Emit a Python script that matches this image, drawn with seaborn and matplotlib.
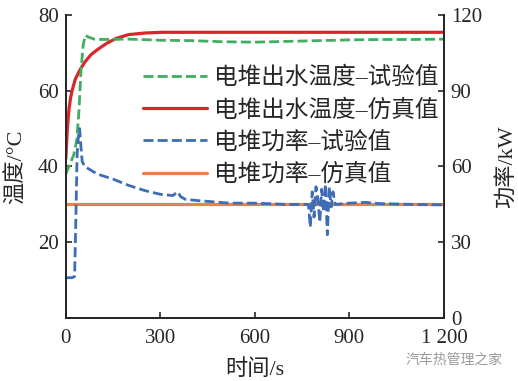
import matplotlib
matplotlib.use("Agg")
import matplotlib.pyplot as plt
import seaborn as sns
import pandas as pd

# --- data ---
t_temp_test = [0, 10, 25, 35, 42, 48, 55, 62, 70, 90, 120, 200, 300, 400, 500,
               600, 700, 800, 900, 1000, 1100, 1200]
temp_test = [38, 40, 43, 47, 55, 65, 72, 74.6, 74.2, 73.6, 73.5, 73.6, 73.3, 73.2,
             72.9, 72.8, 73.0, 73.2, 73.4, 73.5, 73.5, 73.6]

t_temp_sim = [0, 5, 10, 15, 20, 30, 45, 60, 80, 100, 130, 160, 200, 250, 300,
              600, 900, 1200]
temp_sim = [42, 50, 55, 58, 60, 63, 65.5, 67.5, 69.5, 70.8, 72.5, 73.8, 74.8, 75.2,
            75.4, 75.4, 75.4, 75.4]

t_power_test = [0, 10, 20, 28, 32, 36, 40, 44, 48, 52, 60, 80, 100, 150, 200, 250,
                300, 340, 355, 365, 380, 420, 470, 520, 600, 700, 770, 776, 782,
                788, 794, 800, 806, 812, 818, 824, 830, 836, 842, 848, 855, 900,
                950, 1000, 1100, 1200]
power_test = [16, 16, 16, 16.5, 40, 65, 72, 75, 68, 62, 60, 58.5, 57, 55, 52.5,
              50.5, 49, 48.5, 50, 48, 47, 46.5, 46, 45.5, 45.5, 45, 45, 36, 50, 40,
              52, 47, 38, 51, 42, 53, 33, 52, 44, 50, 45, 45.5, 45.8, 45.3, 45, 44.8]

t_power_sim = [0, 1200]
power_sim = [45, 45]

labels = ["电堆出水温度–试验值", "电堆出水温度–仿真值", "电堆功率–试验值", "电堆功率–仿真值"]
colors = ["#3fae5e", "#d8272b", "#3e6db5", "#e5834a"]

sns.set_style("ticks")
plt.rcParams["font.family"] = ["Liberation Serif", "Noto Sans CJK SC"]
plt.rcParams["axes.unicode_minus"] = False

fig, ax = plt.subplots(figsize=(5.18, 3.81), dpi=100)
fig.subplots_adjust(left=0.127, right=0.857, bottom=0.165, top=0.961)
ax2 = ax.twinx()

df_tt = pd.DataFrame({"t": t_temp_test, "v": temp_test})
df_ts = pd.DataFrame({"t": t_temp_sim, "v": temp_sim})
df_pt = pd.DataFrame({"t": t_power_test, "v": power_test})
df_ps = pd.DataFrame({"t": t_power_sim, "v": power_sim})

# temperature on the left axis, power on the right axis
sns.lineplot(data=df_ts, x="t", y="v", ax=ax, color=colors[1], lw=2.3)
sns.lineplot(data=df_tt, x="t", y="v", ax=ax, color=colors[0], lw=2.0)
h_ts, h_tt = ax.lines[0], ax.lines[1]
h_tt.set_dashes((3.6, 1.5))

sns.lineplot(data=df_ps, x="t", y="v", ax=ax2, color=colors[3], lw=2.3)
sns.lineplot(data=df_pt, x="t", y="v", ax=ax2, color=colors[2], lw=2.0)
h_ps, h_pt = ax2.lines[0], ax2.lines[1]
h_pt.set_dashes((3.6, 1.5))

ax.set_xlim(0, 1200)
ax.set_ylim(0, 80)
ax2.set_ylim(0, 120)
ax.set_xticks([0, 300, 600, 900, 1200])
ax.set_xticklabels(["0", "300", "600", "900", "1 200"])
ax.set_yticks([20, 40, 60, 80])
ax2.set_yticks([0, 30, 60, 90, 120])

for a in (ax, ax2):
    a.spines["top"].set_visible(False)
    for s in a.spines.values():
        s.set_linewidth(1.3)
    a.tick_params(direction="in", length=4, width=1.2, labelsize=15, pad=5)
ax.tick_params(axis="x", pad=8)

ax.set_xlabel("时间/s", fontsize=16, labelpad=8)
ax.set_ylabel("温度/°C", fontsize=16, labelpad=8)
ax2.set_ylabel("功率/kW", fontsize=16, labelpad=10)

ax2.legend([h_tt, h_ts, h_pt, h_ps], labels, loc="upper left",
           bbox_to_anchor=(0.18, 0.86), frameon=False, fontsize=17,
           handlelength=2.7, handletextpad=0.3, labelspacing=0.42, borderaxespad=0)

fig.text(0.97, 0.055, "汽车热管理之家", ha="right", va="center", fontsize=10,
         color="#9a9a9a", family=["Noto Sans CJK SC"])

fig.savefig("out.png", dpi=100)
